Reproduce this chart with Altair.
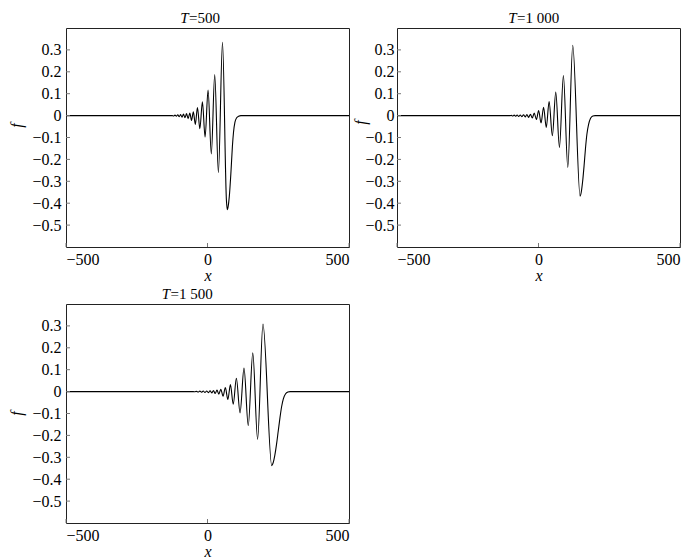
import altair as alt
import pandas as pd

FONT = "Liberation Serif"
W, H = 283, 219

# axis ticks
x_ticks = [-500, 0, 500]
y_ticks = [-0.5, -0.4, -0.3, -0.2, -0.1, 0, 0.1, 0.2, 0.3]

# panel titles: italic "T" + rest
title_rest = ["=500", "=1 000", "=1 500"]

# T = 500
x_t500 = [-500, -125, -120, -115, -110, -105, -100, -95, -90, -85, -79.5, -74, -68.5,
          -62.5, -56.5, -50, -43, -35.5, -27, -18, -8.5, 2, 13.5, 25.5, 38.5, 53,
          67, 70, 73, 77, 83, 88, 92, 97, 103, 110, 118, 500]
f_t500 = [0, 0, -0.002, 0.002, -0.003, 0.004, -0.005, 0.005, -0.007, 0.007, -0.01, 0.009, -0.014,
          0.012, -0.022, 0.017, -0.04, 0.037, -0.06, 0.063, -0.098, 0.117, -0.175, 0.188, -0.26, 0.335,
          -0.39, -0.43, -0.415, -0.37, -0.255, -0.14, -0.075, -0.03, -0.01, -0.003, 0, 0]

# T = 1000
x_t1000 = [-500, -100, -96, -91, -86, -81, -75.5, -70, -64.5, -59, -53, -47, -41, -35,
           -28.5, -22, -15, -7.5, 0.5, 9, 18, 27.5, 37.5, 49, 61, 74, 88, 103.5, 121,
           147, 151, 156, 161, 166, 171, 177, 184, 192, 200, 500]
f_t1000 = [0, 0, 0.001, -0.002, 0.002, -0.003, 0.003, -0.004, 0.003, -0.005, 0.004, -0.006, 0.005, -0.008,
           0.006, -0.011, 0.012, -0.018, 0.023, -0.034, 0.038, -0.054, 0.064, -0.092, 0.107, -0.145, 0.183, -0.237, 0.321,
           -0.368, -0.35, -0.3, -0.23, -0.15, -0.085, -0.04, -0.012, -0.002, 0, 0]

# T = 1500
x_t1500 = [-500, -50, -45, -39, -33, -27, -21, -15, -9, -3, 3, 9, 15, 21, 27, 33.5, 40,
           47, 55, 63, 72, 81, 91, 102, 115, 129, 144, 160, 177, 196,
           227, 232, 238, 244, 250, 256, 262, 268, 276, 284, 292, 500]
f_t1500 = [0, 0, -0.001, 0.001, -0.002, 0.002, -0.003, 0.003, -0.004, 0.003, -0.005, 0.004, -0.006, 0.005, -0.009, 0.007, -0.012,
           0.011, -0.021, 0.018, -0.036, 0.032, -0.058, 0.061, -0.097, 0.107, -0.155, 0.177, -0.218, 0.308,
           -0.338, -0.325, -0.29, -0.24, -0.18, -0.12, -0.068, -0.033, -0.01, -0.002, 0, 0]


def panel(xs, fs, rest, junction, label_pad, title_pad, title_y):
    xsc = alt.Scale(domain=[-500, 500], nice=False, zero=False)
    ysc = alt.Scale(domain=[-0.6, 0.4], nice=False, zero=False)
    xax = alt.Axis(values=x_ticks, format="d", title="x", labelPadding=4, titlePadding=0)
    yax = alt.Axis(values=y_ticks, format=".1~f", title="f",
                   labelPadding=label_pad, titlePadding=title_pad, titleY=title_y)
    df = pd.DataFrame({"x": xs, "f": fs})
    line = alt.Chart(df).mark_line(color="black", strokeWidth=1.1, clip=True,
                                   interpolate="monotone").encode(
        x=alt.X("x:Q", scale=xsc, axis=xax),
        y=alt.Y("f:Q", scale=ysc, axis=yax),
    )
    ytk = alt.Chart(pd.DataFrame({"f": y_ticks})).mark_rule(color="#777", strokeWidth=1).encode(
        y=alt.Y("f:Q", scale=ysc, axis=yax), x=alt.value(0), x2=alt.value(4))
    xtk = alt.Chart(pd.DataFrame({"x": x_ticks})).mark_rule(color="#777", strokeWidth=1).encode(
        x=alt.X("x:Q", scale=xsc, axis=xax), y=alt.value(H), y2=alt.value(H - 4))
    t1 = alt.Chart(pd.DataFrame({"t": ["T"]})).mark_text(
        font=FONT, fontSize=15, fontStyle="italic", align="right", baseline="alphabetic",
        color="black").encode(text="t:N", x=alt.value(junction), y=alt.value(-5.5))
    t2 = alt.Chart(pd.DataFrame({"t": [rest]})).mark_text(
        font=FONT, fontSize=15, align="left", baseline="alphabetic",
        color="black").encode(text="t:N", x=alt.value(junction + 0.5), y=alt.value(-5.5))
    return alt.layer(line, ytk, xtk, t1, t2).properties(width=W, height=H)


p1 = panel(x_t500, f_t500, title_rest[0], 122.5, 5, 7, 97)
p2 = panel(x_t1000, f_t1000, title_rest[1], 119.5, 3, -4, 94)
p3 = panel(x_t1500, f_t1500, title_rest[2], 104, 5, 7, 109)

chart = alt.concat(p1, p2, p3, columns=2, spacing={"row": 57, "column": 48}, bounds="flush").configure_view(
    stroke="#222", strokeWidth=1
).configure_axis(
    labelFont=FONT, labelFontSize=16, labelColor="black",
    titleFont=FONT, titleFontSize=16, titleFontStyle="italic", titleFontWeight="normal",
    titleColor="black", ticks=False, domain=False, grid=False
).properties(
    padding={"left": 0, "top": 2, "right": 0, "bottom": 0},
    background="white"
)

chart.save("out.html", embed_options={"renderer": "svg", "actions": False})
